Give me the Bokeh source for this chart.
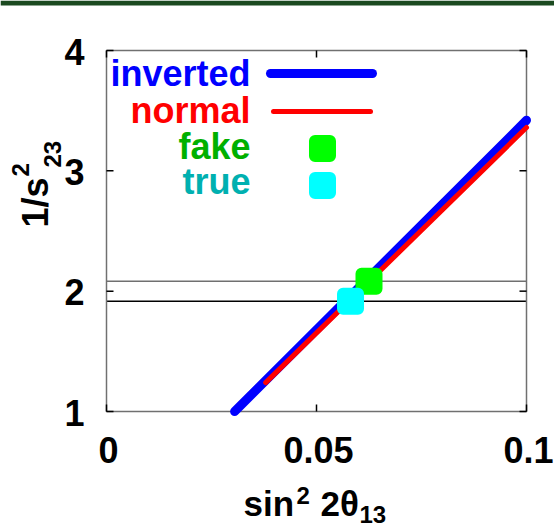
import numpy as np
from bokeh.plotting import figure
from bokeh.core.properties import value
from bokeh.embed import file_html
from bokeh.resources import INLINE

# ---------------- data ----------------
inverted_x = [0.0305, 0.1]
inverted_y = [1.0, 3.42]
normal_x = [0.0379, 0.1]
normal_y = [1.24, 3.36]
fake_x = [0.0625]
fake_y = [2.083]
true_x = [0.0581]
true_y = [1.917]
band_levels = [2.083, 1.917]
band_colors = ["#707070", "#000000"]
x_ticks = [0, 0.05, 0.1]
x_tick_labels = ["0", "0.05", "0.1"]
y_ticks = [1, 2, 3, 4]
y_tick_labels = ["1", "2", "3", "4"]
legend_names = ["inverted", "normal", "fake", "true"]
legend_text_colors = ["#0000ff", "#ff0000", "#00b000", "#00b0b0"]

# axis limits
X0, X1, Y0, Y1 = 0.0, 0.1, 1.0, 4.0

# ---------------- layout (canvas pixels) ----------------
W, H = 554, 527
FL, FR, FT, FB = 106, 526, 50, 411          # plot box in pixels
PPX = (X1 - X0) / (FR - FL)                 # data units per pixel
PPY = (Y1 - Y0) / (FB - FT)
BASE_FIX = 0.333                            # baseline correction (fraction of font size)


def dx(px):
    return X0 + (px - FL) * PPX


def dy(py):
    return Y0 + (FB - py) * PPY


FONT = value("Liberation Sans")

# the frame covers the whole canvas so that nothing outside the box is clipped
p = figure(width=W, height=H, x_range=(dx(0), dx(W)), y_range=(dy(H), dy(0)),
           output_backend="svg", toolbar_location=None,
           x_axis_location=None, y_axis_location=None,
           min_border=0, min_border_left=0, min_border_right=0,
           min_border_top=0, min_border_bottom=0)
p.grid.visible = False
p.outline_line_color = None
p.background_fill_color = "white"
p.border_fill_color = "white"

# top decorative bar
p.quad(left=dx(0), right=dx(W), top=dy(0), bottom=dy(5),
       fill_color="#1b4a20", line_color=None)

# horizontal reference lines
for lev, col in zip(band_levels, band_colors):
    p.segment(x0=[X0], y0=[lev], x1=[X1], y1=[lev], line_color=col, line_width=1.5)

# plot box
p.quad(left=X0, right=X1, bottom=Y0, top=Y1, fill_color=None,
       line_color="#707070", line_width=1.5)

# ticks (inward, mirrored)
TL = 7
nx, ny = len(x_ticks), len(y_ticks)
p.segment(x0=x_ticks, y0=[Y0] * nx, x1=x_ticks, y1=[Y0 + TL * PPY] * nx,
          line_color="black", line_width=1.5)
p.segment(x0=x_ticks, y0=[Y1] * nx, x1=x_ticks, y1=[Y1 - TL * PPY] * nx,
          line_color="black", line_width=1.5)
p.segment(x0=[X0] * ny, y0=y_ticks, x1=[X0 + TL * PPX] * ny, y1=y_ticks,
          line_color="black", line_width=1.5)
p.segment(x0=[X1] * ny, y0=y_ticks, x1=[X1 - TL * PPX] * ny, y1=y_ticks,
          line_color="black", line_width=1.5)

# tick labels
TXT = dict(text_font=FONT, text_font_style="bold", text_color="black")
p.text(x=[t + 2 * PPX for t in x_ticks], y=[dy(461 - BASE_FIX * 36)] * nx,
       text=x_tick_labels, text_align="center", text_baseline="alphabetic",
       text_font_size="36px", **TXT)
p.text(x=[dx(84)] * ny, y=[t - (13 - BASE_FIX * 36) * PPY for t in y_ticks],
       text=y_tick_labels, text_align="right", text_baseline="alphabetic",
       text_font_size="36px", **TXT)

# curves
p.line(inverted_x, inverted_y, line_color="#0000ff", line_width=9, line_cap="round")
p.line(normal_x, normal_y, line_color="#ff0000", line_width=5, line_cap="round")

# points
MK = dict(marker="square", size=15, line_width=12, line_join="round")
p.scatter(fake_x, fake_y, fill_color="#00ff00", line_color="#00ff00", **MK)
p.scatter(true_x, true_y, fill_color="#00ffff", line_color="#00ffff", **MK)

# ---------------- legend ----------------
leg_baselines = [85, 122, 158, 193]
p.text(x=[dx(250)] * 4, y=[dy(b - BASE_FIX * 36) for b in leg_baselines],
       text=legend_names, text_color=legend_text_colors, text_align="right",
       text_baseline="alphabetic", text_font=FONT, text_font_style="bold",
       text_font_size="36px")
p.line([dx(270), dx(372)], [dy(73), dy(73)], line_color="#0000ff",
       line_width=9, line_cap="round")
p.line([dx(273), dx(370)], [dy(111), dy(111)], line_color="#ff0000",
       line_width=5, line_cap="round")
p.scatter([dx(322)], [dy(148)], fill_color="#00ff00", line_color="#00ff00", **MK)
p.scatter([dx(322)], [dy(185)], fill_color="#00ffff", line_color="#00ffff", **MK)


# ---------------- axis titles ----------------
def lab(px, py, text, size, rotated=False):
    fix = BASE_FIX * size
    if rotated:
        ax_, ay_, ang = px - fix, py, np.pi / 2
    else:
        ax_, ay_, ang = px, py - fix, 0.0
    p.text(x=[dx(ax_)], y=[dy(ay_)], text=[text], angle=ang,
           text_align="left", text_baseline="alphabetic",
           text_font_size=f"{size}px", **TXT)


lab(243, 515, "sin", 35)
lab(296, 503, "2", 24)
lab(320, 515, "2θ", 35)
lab(359, 522, "13", 24)

lab(47, 227, "1/s", 36, rotated=True)
lab(28, 176, "2", 24, rotated=True)
lab(60, 167, "23", 24, rotated=True)

open("out.html", "w").write(file_html(p, INLINE))
